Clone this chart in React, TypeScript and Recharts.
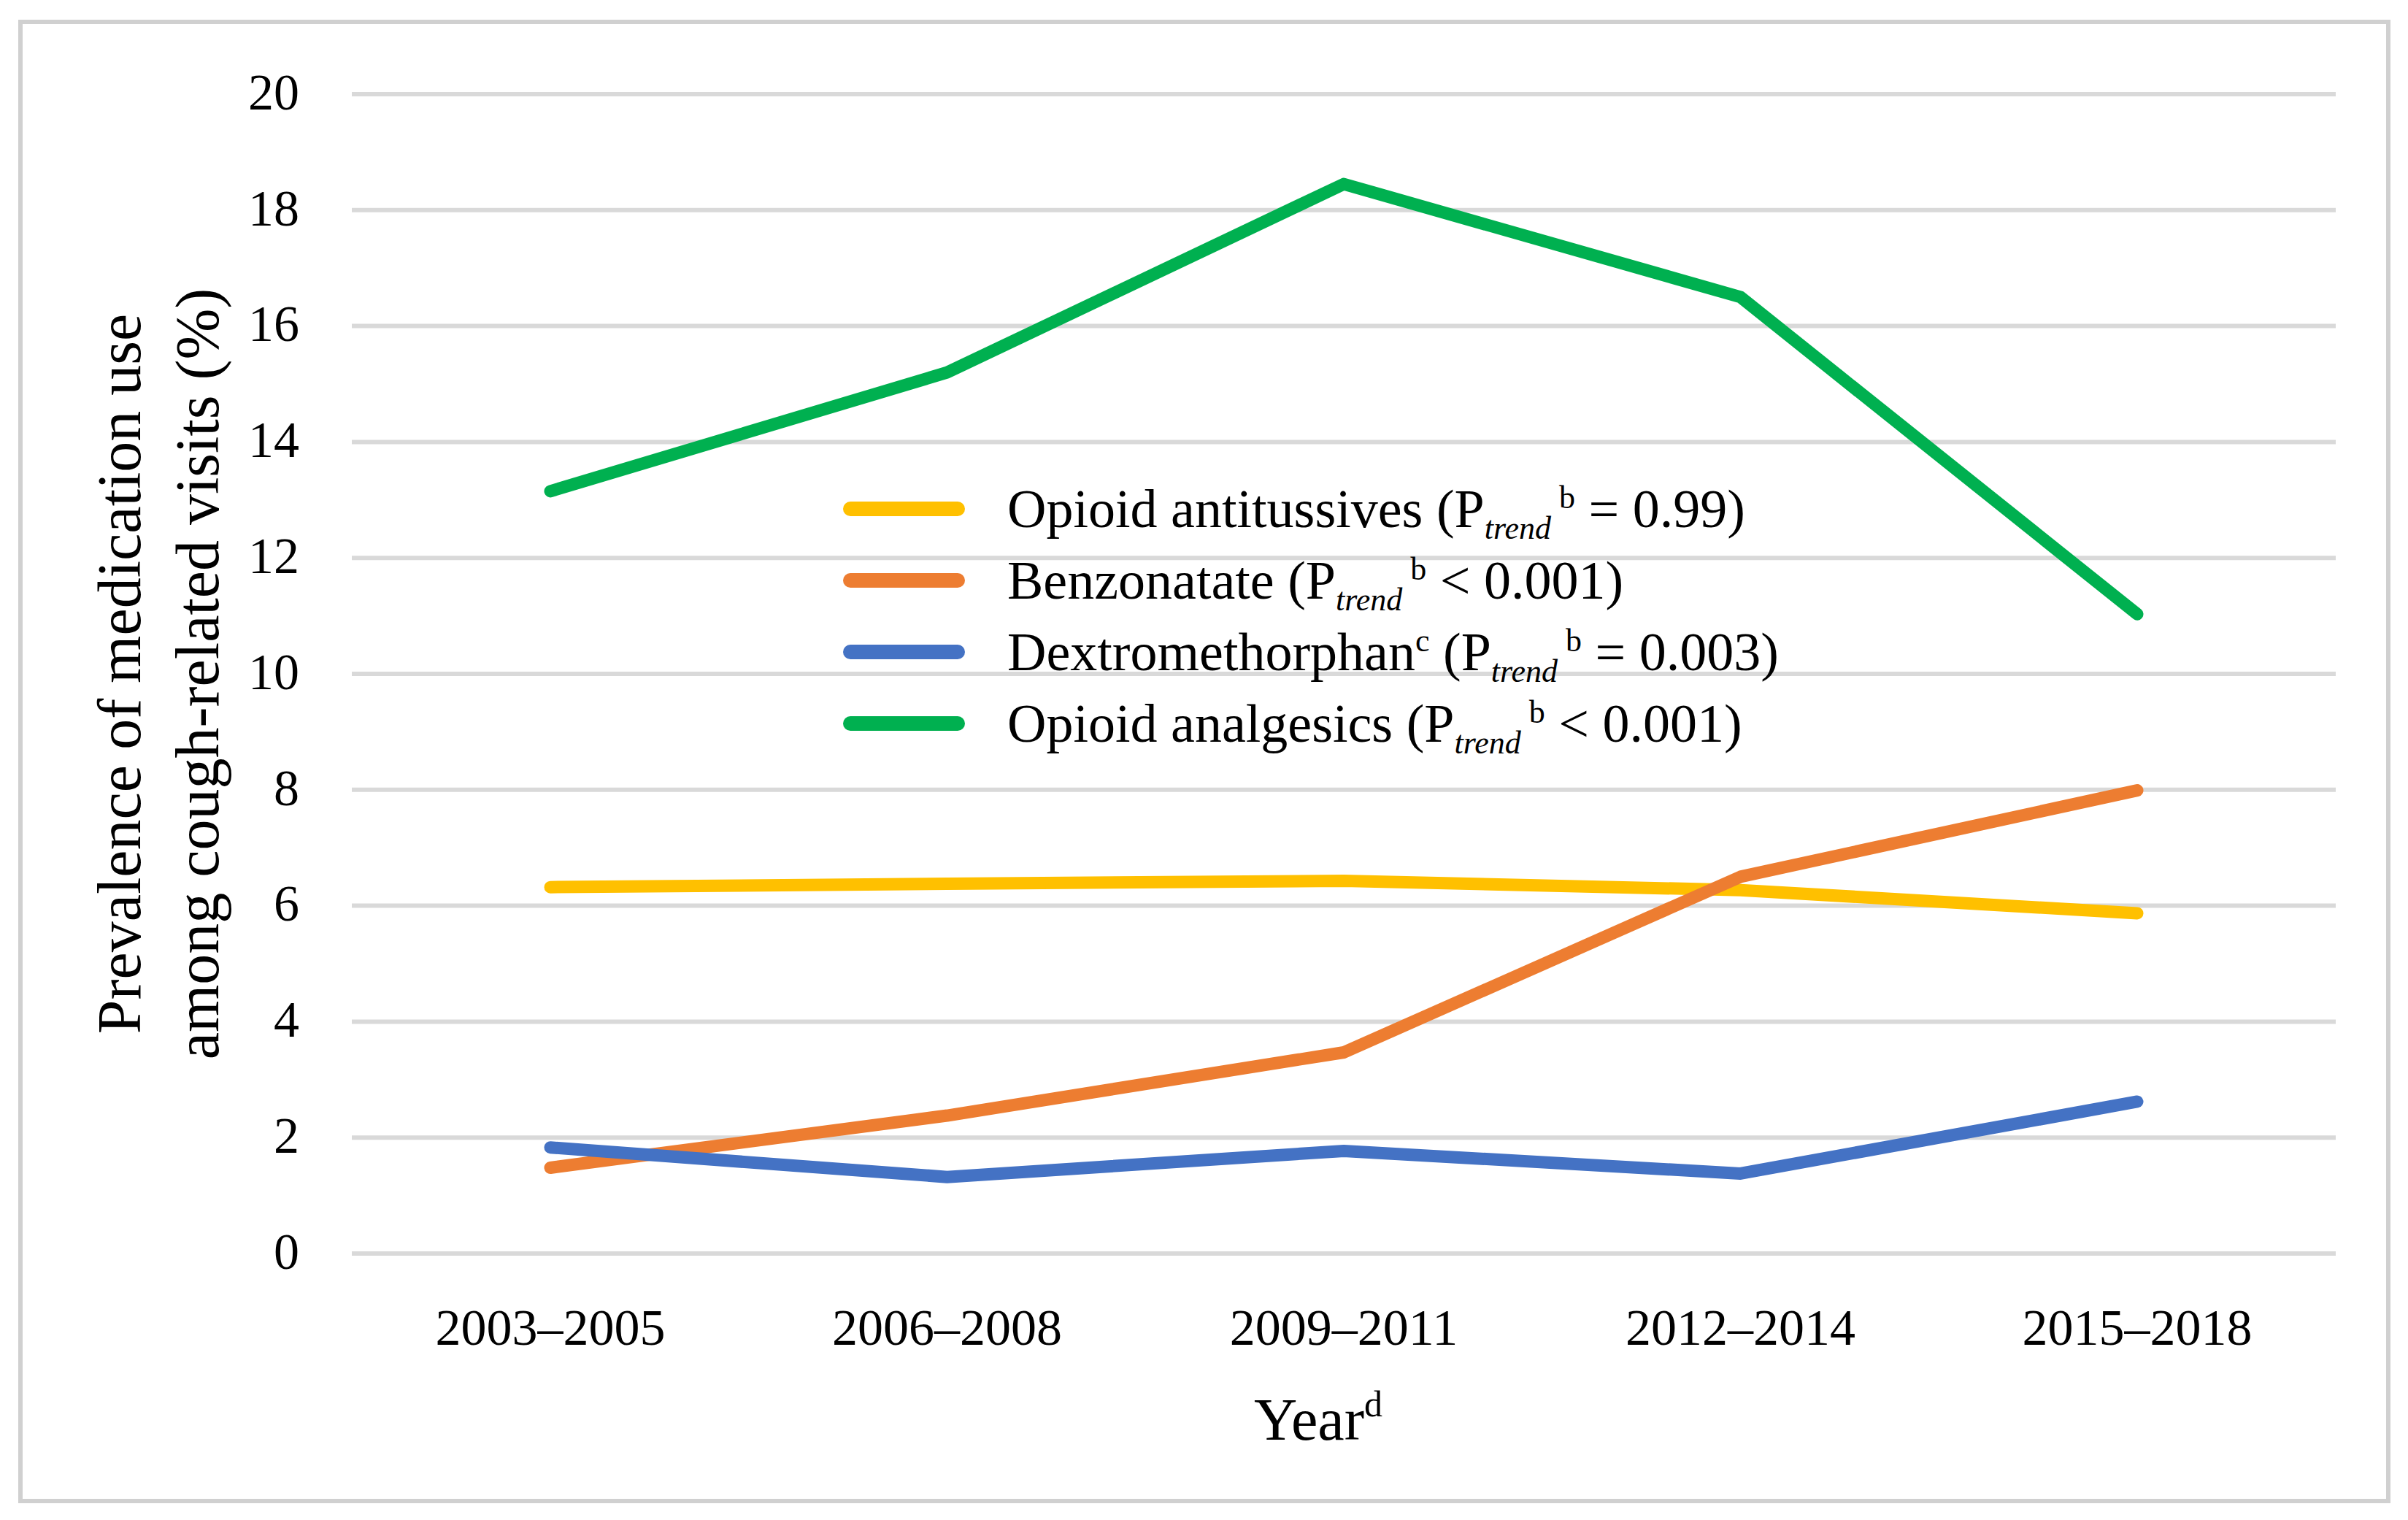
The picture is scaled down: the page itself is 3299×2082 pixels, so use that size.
import { LineChart, Line, XAxis, YAxis, CartesianGrid, Legend } from "recharts"

const periods = ["2003–2005", "2006–2008", "2009–2011", "2012–2014", "2015–2018"]
const opioidAntitussives = [6.32, 6.38, 6.43, 6.27, 5.87]
const benzonatate = [1.48, 2.38, 3.47, 6.5, 7.99]
const dextromethorphan = [1.83, 1.32, 1.77, 1.38, 2.62]
const opioidAnalgesics = [13.15, 15.2, 18.45, 16.5, 11.03]
const yTicks = [0, 2, 4, 6, 8, 10, 12, 14, 16, 18, 20]

const seriesKeys = ["antitussives", "benzonatate", "dextromethorphan", "analgesics"]
const seriesNames = ["Opioid antitussives", "Benzonatate", "Dextromethorphan", "Opioid analgesics"]
const seriesNotes = ["", "", "c", ""]
const pTrends = ["= 0.99)", "< 0.001)", "= 0.003)", "< 0.001)"]
const seriesColors = ["#FFC000", "#ED7D31", "#4472C4", "#00B050"]

const yTitle = ["Prevalence of medication use", "among cough-related visits (%)"]
const xTitle = "Year"
const xTitleNote = "d"

const data = periods.map((period, i) => ({
  period,
  antitussives: opioidAntitussives[i],
  benzonatate: benzonatate[i],
  dextromethorphan: dextromethorphan[i],
  analgesics: opioidAnalgesics[i],
}))

const FONT = '"Liberation Serif", "Times New Roman", serif'

function LegendBox() {
  return (
    <div style={{ fontFamily: FONT, color: "#000" }}>
      {seriesKeys.map((key, i) => (
        <div key={key} style={{ display: "flex", alignItems: "center", height: 98 }}>
          <div
            style={{
              width: 167,
              height: 20,
              borderRadius: 10,
              background: seriesColors[i],
              marginRight: 58,
            }}
          />
          <div style={{ fontSize: 74, lineHeight: "98px", whiteSpace: "nowrap" }}>
            {seriesNames[i]}
            {seriesNotes[i] && (
              <span style={{ fontSize: 44, verticalAlign: "super", lineHeight: 0 }}>{seriesNotes[i]}</span>
            )}
            {" (P"}
            <span style={{ fontSize: 44, fontStyle: "italic", verticalAlign: "sub", lineHeight: 0 }}>trend</span>
            <span style={{ fontSize: 44, verticalAlign: "super", lineHeight: 0 }}>{" b"}</span>
            {" " + pTrends[i]}
          </div>
        </div>
      ))}
    </div>
  )
}

function YTitle(props: any) {
  const vb = props.viewBox || {}
  const cy = (vb.y ?? 129) + (vb.height ?? 1588) / 2
  const xs = [192, 299]
  return (
    <g>
      {yTitle.map((line, i) => (
        <text
          key={i}
          x={xs[i]}
          y={cy}
          transform={`rotate(-90, ${xs[i]}, ${cy})`}
          textAnchor="middle"
          fontFamily={FONT}
          fontSize={84}
          fill="#000"
        >
          {line}
        </text>
      ))}
    </g>
  )
}

function XTitle(props: any) {
  const vb = props.viewBox || {}
  const cx = (vb.x ?? 482) + (vb.width ?? 2718) / 2 - 35
  const y = (vb.y ?? 1717) + 255
  return (
    <text x={cx} y={y} textAnchor="middle" fontFamily={FONT} fontSize={82} fill="#000">
      {xTitle}
      <tspan fontSize={50} dy={-32}>
        {xTitleNote}
      </tspan>
    </text>
  )
}

export default function App() {
  return (
    <div style={{ position: "absolute", left: 0, top: 0, width: 3299, height: 2082, background: "#fff" }}>
      <div
        style={{
          position: "absolute",
          left: 25,
          top: 27,
          width: 3250,
          height: 2032,
          border: "6px solid #d0d0d0",
          boxSizing: "border-box",
        }}
      />
      <LineChart
        width={3299}
        height={2082}
        data={data}
        margin={{ top: 129, right: 99, bottom: 165, left: 382 }}
        style={{ position: "absolute", left: 0, top: 0 }}
      >
        <CartesianGrid vertical={false} stroke="#D9D9D9" strokeWidth={6} />
        <XAxis
          dataKey="period"
          height={200}
          axisLine={false}
          tickLine={false}
          tickMargin={69}
          padding={{ left: 272, right: 272 }}
          interval={0}
          tick={{ fontSize: 70, fontFamily: FONT, fill: "#000" }}
          label={{ content: XTitle }}
        />
        <YAxis
          width={100}
          domain={[0, 20]}
          ticks={yTicks}
          interval={0}
          axisLine={false}
          tickLine={false}
          tickMargin={66}
          tick={{ fontSize: 70, fontFamily: FONT, fill: "#000", dy: -4 }}
          label={{ content: YTitle }}
        />
        <Legend
          layout="vertical"
          align="center"
          verticalAlign="middle"
          content={() => <LegendBox />}
          wrapperStyle={{ left: 1155, top: 648, width: 1400, height: 392 }}
        />
        {seriesKeys.map((key, i) => (
          <Line
            key={key}
            type="linear"
            dataKey={key}
            name={seriesNames[i]}
            stroke={seriesColors[i]}
            strokeWidth={17}
            strokeLinejoin="round"
            strokeLinecap="round"
            dot={false}
            activeDot={false}
            isAnimationActive={false}
          />
        ))}
      </LineChart>
    </div>
  )
}
